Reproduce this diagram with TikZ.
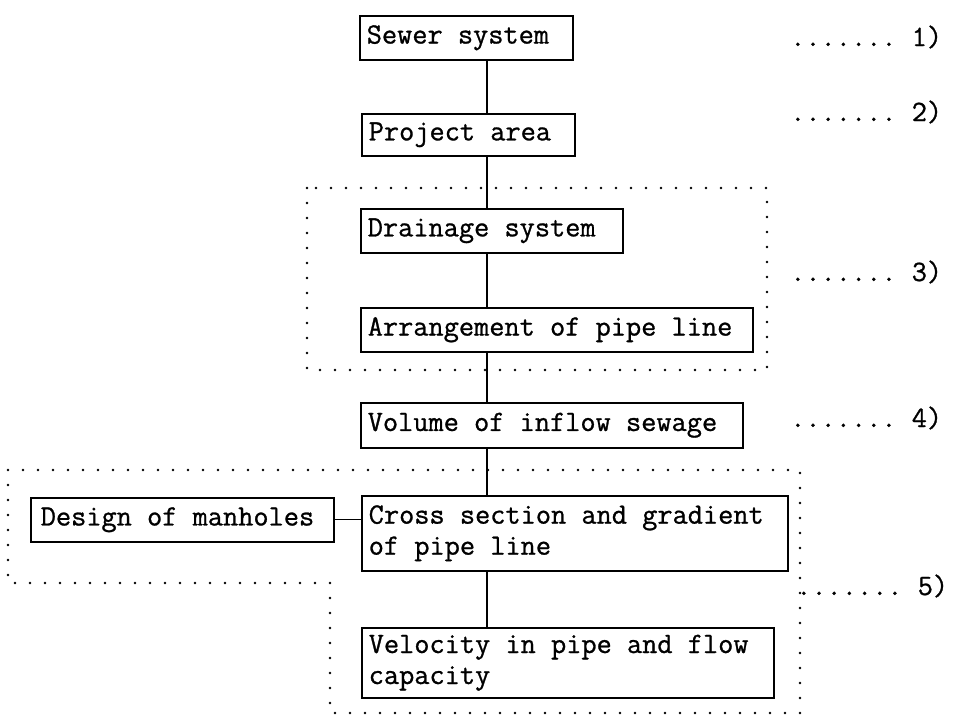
\documentclass[tikz,border=0pt]{standalone}
\usepackage{fontspec}
\setmonofont[FakeBold=0.9]{Latin Modern Mono}
\begin{document}
\begin{tikzpicture}[x=1pt,y=-1pt,
  box/.style={draw, line width=1.5pt, anchor=north west, inner xsep=7pt, inner ysep=0pt,
    font=\ttfamily\fontsize{29.5}{31}\selectfont, align=left,
    execute at begin node={\spaceskip=0pt\xspaceskip=0pt}},
  conn/.style={line width=1.3pt},
  dotbox/.style={line width=2.8pt, dash pattern=on 0pt off 15pt, line cap=round},
  lab/.style={anchor=base west, inner sep=0pt, font=\ttfamily\fontsize{29.5}{31}\selectfont}]
\useasboundingbox (0,0) rectangle (953,721);
% boxes
\node[box, text width=199pt, minimum height=44pt] (sewer) at (359,15) {Sewer system};
\node[box, text width=199pt, minimum height=42pt] (project) at (361,113) {Project area};
\node[box, text width=248pt, minimum height=44pt] (drain) at (360,208) {Drainage system};
\node[box, text width=378pt, minimum height=44pt] (arr) at (360,307) {Arrangement of pipe line};
\node[box, text width=368pt, minimum height=45pt] (vol) at (360,402) {Volume of inflow sewage};
\node[box, inner xsep=10pt, text width=283pt, minimum height=44pt] (man) at (30,497) {Design of manholes};
\node[box, text width=412pt, minimum height=75pt] (cross) at (361,495) {Cross section and gradient\\of pipe line};
\node[box, text width=398pt, minimum height=70pt] (vel) at (361,627) {Velocity in pipe and flow\\capacity};
% spine
\coordinate (spine) at (487,0);
\draw[conn] (sewer.south -| spine) -- (project.north -| spine);
\draw[conn] (project.south -| spine) -- (drain.north -| spine);
\draw[conn] (drain.south -| spine) -- (arr.north -| spine);
\draw[conn] (arr.south -| spine) -- (vol.north -| spine);
\draw[conn] (vol.south -| spine) -- (cross.north -| spine);
\draw[conn] (cross.south -| spine) -- (vel.north -| spine);
\draw[conn] (man.east) -- (cross.west |- man.east);
% dotted groups
\draw[dotbox] (307,188) rectangle (767,370);
\draw[dotbox] (8,470) -- (800,470) -- (800,713) -- (330,713) -- (330,583) -- (8,583) -- cycle;
% labels
\node[lab] (l1) at (790,46) {....... 1)};
\node[lab] (l2) at (790,121) {....... 2)};
\node[lab] (l3) at (790,281) {....... 3)};
\node[lab] (l4) at (790,427) {....... 4)};
\node[lab] (l5) at (796,595) {....... 5)};
\end{tikzpicture}
\end{document}
